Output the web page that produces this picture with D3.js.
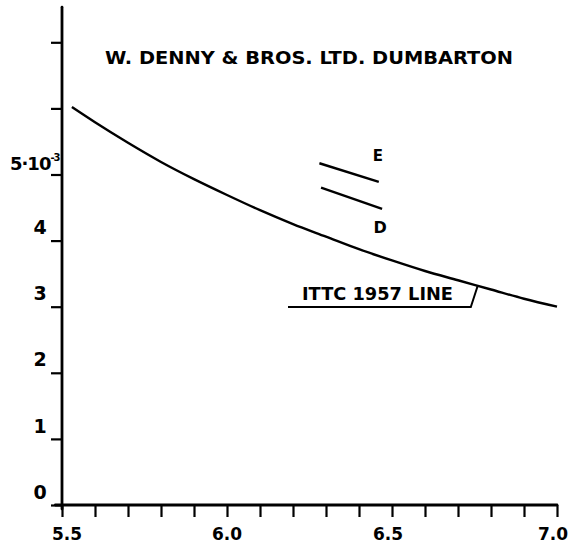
<!DOCTYPE html>
<html>
<head>
<meta charset="utf-8">
<script src="https://cdn.jsdelivr.net/npm/d3@7"></script>
<style>
  html, body { margin: 0; padding: 0; background: #fff; }
  svg { display: block; }
  text { font-family: "DejaVu Sans", sans-serif; fill: #000; }
</style>
</head>
<body>
<div id="chart"></div>
<script>
// ---- data ----
const ittcX = [5.53, 5.6, 5.7, 5.8, 5.9, 6.0, 6.1, 6.2, 6.3, 6.4, 6.5, 6.6, 6.7, 6.8, 6.9, 7.0];
const ittcY = [6.02, 5.79, 5.48, 5.19, 4.93, 4.69, 4.46, 4.25, 4.06, 3.87, 3.70, 3.54, 3.40, 3.26, 3.12, 3.00];
const lineE_X = [6.28, 6.46];
const lineE_Y = [5.17, 4.89];
const lineD_X = [6.285, 6.47];
const lineD_Y = [4.80, 4.48];
const xTickValues = [5.5, 5.6, 5.7, 5.8, 5.9, 6.0, 6.1, 6.2, 6.3, 6.4, 6.5, 6.6, 6.7, 6.8, 6.9, 7.0];
const xLabelValues = [5.5, 6.0, 6.5, 7.0];
const xLabelTexts = ["5.5", "6.0", "6.5", "7.0"];
const yTickValues = [0, 1, 2, 3, 4, 5, 6, 7];
const yLabelValues = [0, 1, 2, 3, 4];
const yLabelTexts = ["0", "1", "2", "3", "4"];
const titleText = "W. DENNY & BROS. LTD. DUMBARTON";
const curveLabel = "ITTC 1957 LINE";

// ---- layout ----
const W = 576, H = 552;
const svg = d3.select("#chart").append("svg").attr("width", W).attr("height", H);

const x = d3.scaleLinear().domain([5.5, 7.0]).range([62, 557]);
const y = d3.scaleLinear().domain([0, 7]).range([505, 42.3]);

// y axis
const yAxis = d3.axisLeft(y).tickValues(yTickValues).tickFormat("").tickSize(11).tickSizeOuter(0);
const gy = svg.append("g").attr("transform", `translate(${x(5.5)},0)`).call(yAxis);
gy.select(".domain").remove();
gy.selectAll(".tick line").attr("stroke", "#000").attr("stroke-width", 2.2);
svg.append("line")
  .attr("x1", x(5.5)).attr("x2", x(5.5))
  .attr("y1", y(7.53)).attr("y2", y(-0.06))
  .attr("stroke", "#000").attr("stroke-width", 2.8).attr("stroke-linecap", "round");

// x axis
const xAxis = d3.axisBottom(x).tickValues(xTickValues).tickFormat("").tickSize(12).tickSizeOuter(0);
const gx = svg.append("g").attr("transform", `translate(0,${y(0)})`).call(xAxis);
gx.select(".domain").remove();
gx.selectAll(".tick line").attr("stroke", "#000").attr("stroke-width", 2.2);
svg.append("line")
  .attr("x1", x(5.48)).attr("x2", x(7.0))
  .attr("y1", y(0)).attr("y2", y(0))
  .attr("stroke", "#000").attr("stroke-width", 2.8).attr("stroke-linecap", "round");

// x labels
svg.append("g").selectAll("text").data(xLabelValues).join("text")
  .attr("x", (d, i) => x(d) + (i === 0 ? 5 : (i === 2 ? -4 : (i === 3 ? -4 : 0))))
  .attr("y", 540)
  .attr("text-anchor", "middle")
  .attr("font-size", 17).attr("font-weight", "bold")
  .text((d, i) => xLabelTexts[i]);

// y labels
svg.append("g").selectAll("text").data(yLabelValues).join("text")
  .attr("x", 40)
  .attr("y", d => y(d) - 13)
  .attr("dy", "0.35em")
  .attr("text-anchor", "middle")
  .attr("font-size", 19).attr("font-weight", "bold")
  .text((d, i) => yLabelTexts[i]);

// 5·10^-3 label
const t5 = svg.append("text")
  .attr("x", 10).attr("y", y(5) - 5)
  .attr("font-size", 18).attr("font-weight", "bold")
  .attr("letter-spacing", -1);
t5.append("tspan").text("5·10");
t5.append("tspan").attr("dy", -9).attr("font-size", 10).text("-3");

// title
svg.append("text")
  .attr("x", 105).attr("y", 64)
  .attr("font-size", 17).attr("font-weight", "bold")
  .attr("textLength", 408).attr("lengthAdjust", "spacingAndGlyphs")
  .text(titleText);

// ITTC curve
const line = d3.line().x(d => x(d[0])).y(d => y(d[1])).curve(d3.curveMonotoneX);
svg.append("path")
  .datum(ittcX.map((v, i) => [v, ittcY[i]]))
  .attr("d", line)
  .attr("fill", "none").attr("stroke", "#000").attr("stroke-width", 2.4);

// E and D lines
const straight = d3.line().x(d => x(d[0])).y(d => y(d[1]));
svg.append("path")
  .datum(lineE_X.map((v, i) => [v, lineE_Y[i]]))
  .attr("d", straight).attr("fill", "none").attr("stroke", "#000").attr("stroke-width", 2.4);
svg.append("path")
  .datum(lineD_X.map((v, i) => [v, lineD_Y[i]]))
  .attr("d", straight).attr("fill", "none").attr("stroke", "#000").attr("stroke-width", 2.4);

svg.append("text").attr("x", x(lineE_X[1]) - 1).attr("y", y(lineE_Y[0]) - 2)
  .attr("text-anchor", "middle").attr("font-size", 15).attr("font-weight", "bold").text("E");
svg.append("text").attr("x", x(lineD_X[1]) - 2).attr("y", y(lineD_Y[1]) + 24)
  .attr("text-anchor", "middle").attr("font-size", 16).attr("font-weight", "bold").text("D");

// ITTC label with leader
svg.append("text")
  .attr("x", 302).attr("y", 300)
  .attr("font-size", 17).attr("font-weight", "bold")
  .attr("textLength", 151).attr("lengthAdjust", "spacingAndGlyphs")
  .text(curveLabel);
const lx = 6.76;
svg.append("path")
  .attr("d", `M${x(5.5) + 226},${y(0) - 198} L${x(lx) - 7},${y(0) - 198} L${x(lx)},${y(3.32)}`)
  .attr("fill", "none").attr("stroke", "#000").attr("stroke-width", 2);
</script>
</body>
</html>
